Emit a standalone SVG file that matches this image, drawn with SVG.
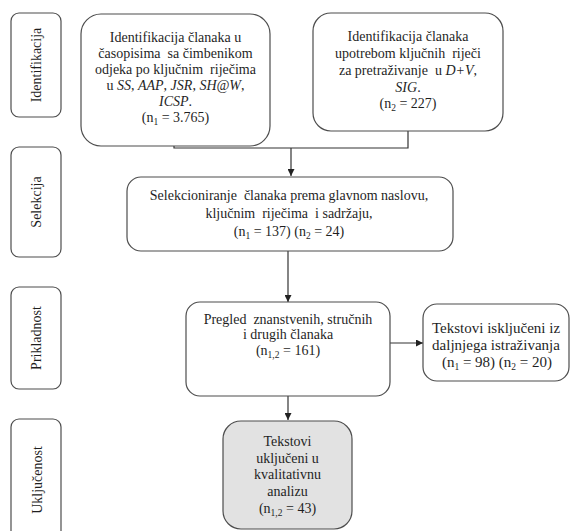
<svg xmlns="http://www.w3.org/2000/svg" width="570" height="531" viewBox="0 0 570 531">
<defs>
<style>
.bg{fill:#ffffff}
.box{fill:#ffffff;stroke:#4d4d4d;stroke-width:1.2}
.gbox{fill:#e2e2e2;stroke:#4d4d4d;stroke-width:1.2}
.side{fill:#ffffff;stroke:#4d4d4d;stroke-width:1.2}
.t{font-family:"Liberation Serif","Times New Roman",serif;font-size:14px;fill:#1f1f1f;text-anchor:middle;white-space:pre}
.big{font-size:15px}
.i{font-style:italic}
.sub{font-size:9.5px}
.line{fill:none;stroke:#333333;stroke-width:1.2}
</style>
<marker id="arr" viewBox="0 0 10 10" refX="10" refY="5" markerWidth="7" markerHeight="7" markerUnits="userSpaceOnUse" orient="auto">
<path d="M0,0 L10,5 L0,10 z" fill="#222222"/>
</marker>
</defs>
<rect class="bg" x="0" y="0" width="570" height="531"/>

<g id="side-identifikacija">
<rect class="side" x="11" y="13" width="50" height="104" rx="8"/>
<text class="t" transform="translate(40.5,65) rotate(-90)">Identifikacija</text>
</g>
<g id="side-selekcija">
<rect class="side" x="11" y="147" width="50" height="110" rx="8"/>
<text class="t" transform="translate(41,202) rotate(-90)">Selekcija</text>
</g>
<g id="side-prikladnost">
<rect class="side" x="11" y="287" width="50" height="102" rx="8"/>
<text class="t" transform="translate(41,338) rotate(-90)">Prikladnost</text>
</g>
<g id="side-ukljucenost">
<rect class="side" x="11" y="419" width="50" height="122" rx="8"/>
<text class="t" transform="translate(41.5,480) rotate(-90)">Uključenost</text>
</g>

<g id="connectors">
<path class="line" d="M174,131 V148 H408 V131"/>
<path class="line" d="M291,148 V176" marker-end="url(#arr)"/>
<path class="line" d="M288,251 V302" marker-end="url(#arr)"/>
<path class="line" d="M390,343 H423" marker-end="url(#arr)"/>
<path class="line" d="M288,370 V420" marker-end="url(#arr)"/>
</g>

<g id="n1-identifikacija">
<rect class="box" x="81" y="14" width="189" height="132" rx="20"/>
<text class="t" x="175.5" y="42" xml:space="preserve">Identifikacija članaka u</text>
<text class="t" x="175.5" y="58" xml:space="preserve">časopisima  sa čimbenikom</text>
<text class="t" x="175.5" y="74" xml:space="preserve">odjeka po ključnim  riječima</text>
<text class="t" x="175.5" y="90">u <tspan class="i">SS</tspan>, <tspan class="i">AAP</tspan>, <tspan class="i">JSR</tspan>, <tspan class="i">SH@W</tspan>,</text>
<text class="t" x="175.5" y="106"><tspan class="i">ICSP</tspan>.</text>
<text class="t" x="175.5" y="122">(n<tspan class="sub" dy="3">1</tspan><tspan dy="-3"> = 3.765)</tspan></text>
</g>

<g id="n2-identifikacija">
<rect class="box" x="313" y="13" width="190" height="118" rx="18"/>
<text class="t" x="408" y="41">Identifikacija članaka</text>
<text class="t" x="408" y="58" xml:space="preserve">upotrebom ključnih  riječi</text>
<text class="t" x="408" y="75" xml:space="preserve">za pretraživanje  u <tspan class="i">D+V</tspan>,</text>
<text class="t" x="408" y="92"><tspan class="i">SIG</tspan>.</text>
<text class="t" x="408" y="108">(n<tspan class="sub" dy="3">2</tspan><tspan dy="-3"> = 227)</tspan></text>
</g>

<g id="n3-selekcija">
<rect class="box" x="127" y="177" width="326" height="74" rx="14"/>
<text class="t" x="289" y="200" xml:space="preserve">Selekcioniranje  članaka prema glavnom naslovu,</text>
<text class="t" x="289" y="218" xml:space="preserve">ključnim  riječima  i sadržaju,</text>
<text class="t" x="289" y="236">(n<tspan class="sub" dy="3">1</tspan><tspan dy="-3"> = 137) (n</tspan><tspan class="sub" dy="3">2</tspan><tspan dy="-3"> = 24)</tspan></text>
</g>

<g id="n4-pregled">
<rect class="box" x="186" y="302" width="204" height="94" rx="14"/>
<text class="t" x="288" y="323.5" xml:space="preserve">Pregled  znanstvenih, stručnih</text>
<text class="t" x="288" y="339">i drugih članaka</text>
<text class="t" x="288" y="354.5">(n<tspan class="sub" dy="3">1,2</tspan><tspan dy="-3"> = 161)</tspan></text>
</g>

<g id="n5-iskljuceni">
<rect class="box" x="423" y="304" width="146" height="77" rx="14"/>
<text class="t big" x="496" y="332.5">Tekstovi isključeni iz</text>
<text class="t big" x="496" y="349.5">daljnjega istraživanja</text>
<text class="t big" x="497" y="366.5">(n<tspan class="sub" dy="3">1</tspan><tspan dy="-3"> = 98) (n</tspan><tspan class="sub" dy="3">2</tspan><tspan dy="-3"> = 20)</tspan></text>
</g>

<g id="n6-ukljuceni">
<rect class="gbox" x="223" y="421" width="129" height="108" rx="18"/>
<text class="t" x="287.5" y="446">Tekstovi</text>
<text class="t" x="287.5" y="462.5">uključeni u</text>
<text class="t" x="287.5" y="479">kvalitativnu</text>
<text class="t" x="287.5" y="495.5">analizu</text>
<text class="t" x="287.5" y="512.5">(n<tspan class="sub" dy="3">1,2</tspan><tspan dy="-3"> = 43)</tspan></text>
</g>
</svg>
